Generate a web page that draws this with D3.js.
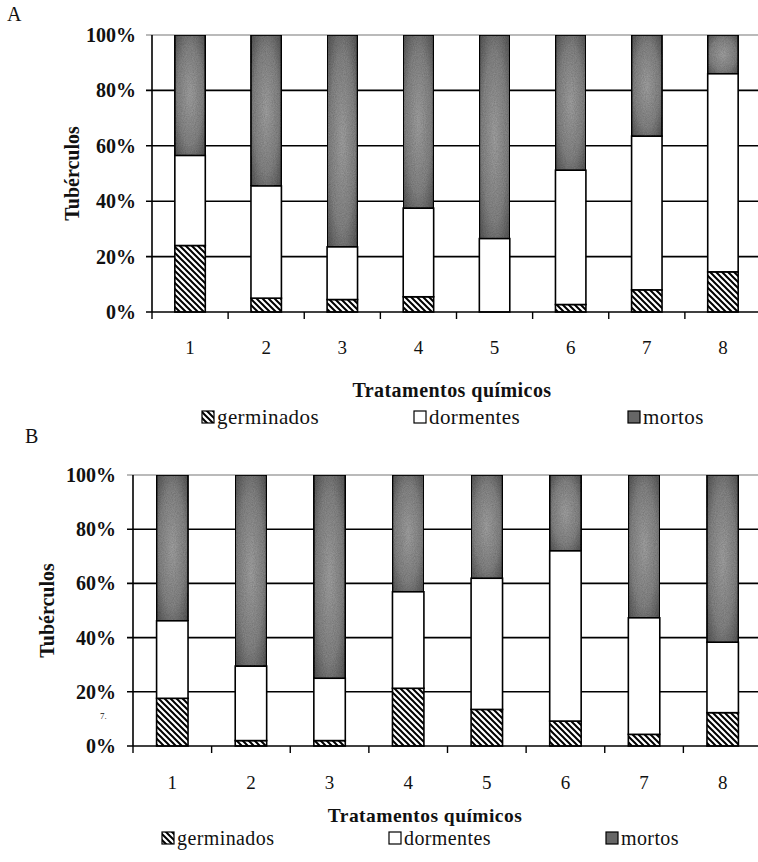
<!DOCTYPE html>
<html>
<head>
<meta charset="utf-8">
<script src="https://cdn.jsdelivr.net/npm/d3@7"></script>
<style>
  html, body { margin: 0; padding: 0; background: #fff; }
  svg { display: block; }
  text { font-family: "Liberation Serif", "Times New Roman", serif; fill: #111; }
</style>
</head>
<body>
<svg id="chart" width="758" height="862"></svg>
<script>
// ---------- data ----------
const categories = ["1", "2", "3", "4", "5", "6", "7", "8"];
const seriesNames = ["germinados", "dormentes", "mortos"];
const yTickValues = [0, 20, 40, 60, 80, 100];
const yTickLabels = ["0%", "20%", "40%", "60%", "80%", "100%"];

const germinadosA = [24, 5, 4.5, 5.5, 0, 2.7, 8, 14.5];
const dormentesA  = [32.5, 40.5, 19, 32, 26.5, 48.5, 55.5, 71.5];
const mortosA     = [43.5, 54.5, 76.5, 62.5, 73.5, 48.8, 36.5, 14];

const germinadosB = [17.6, 2, 2, 21.3, 13.5, 9.2, 4.3, 12.3];
const dormentesB  = [28.6, 27.5, 23, 35.6, 48.4, 62.8, 43, 26];
const mortosB     = [53.8, 70.5, 75, 43.1, 38.1, 28, 52.7, 61.7];

const xTitle = "Tratamentos químicos";
const yTitle = "Tubérculos";

// ---------- drawing ----------
const svg = d3.select("#chart");
const defs = svg.append("defs");

// hatch pattern for germinados
const hatch = defs.append("pattern")
  .attr("id", "hatch").attr("patternUnits", "userSpaceOnUse")
  .attr("width", 6).attr("height", 6);
hatch.append("rect").attr("width", 6).attr("height", 6).attr("fill", "#fff");
hatch.append("path").attr("d", "M0,0 L6,6 M-3,3 L3,9 M3,-3 L9,3")
  .attr("stroke", "#000").attr("stroke-width", 2);

// shaded gray for mortos
const grad = defs.append("radialGradient").attr("id", "shade")
  .attr("cx", "50%").attr("cy", "50%").attr("r", "75%");
grad.append("stop").attr("offset", "0%").attr("stop-color", "#a8a8a8");
grad.append("stop").attr("offset", "55%").attr("stop-color", "#8a8a8a");
grad.append("stop").attr("offset", "100%").attr("stop-color", "#4e4e4e");

// speckle noise filter
const flt = defs.append("filter").attr("id", "grain").attr("x", 0).attr("y", 0).attr("width", 1).attr("height", 1);
flt.append("feTurbulence").attr("type", "fractalNoise").attr("baseFrequency", 0.9).attr("numOctaves", 2).attr("result", "noise");
flt.append("feColorMatrix").attr("in", "noise").attr("type", "matrix")
  .attr("values", "0 0 0 0 0  0 0 0 0 0  0 0 0 0 0  0 0 0 0.45 0").attr("result", "dots");
flt.append("feComposite").attr("in", "dots").attr("in2", "SourceGraphic").attr("operator", "in").attr("result", "d2");
flt.append("feMerge").selectAll("feMergeNode").data(["SourceGraphic", "d2"]).join("feMergeNode").attr("in", d => d);

const fills = { germinados: "url(#hatch)", dormentes: "#fff", mortos: "url(#shade)" };

function panel(cfg) {
  const { letter, letterPos, x0, x1, yTop, yBot, germ, dorm, mort,
          labelRight, yTitleX, xLabelY, xTitleY, legendY, legendX } = cfg;
  const g = svg.append("g");

  const x = d3.scaleBand().domain(categories).range([x0, x1]).padding(0);
  const y = d3.scaleLinear().domain([0, 100]).range([yBot, yTop]);

  // panel letter
  g.append("text").attr("x", letterPos[0]).attr("y", letterPos[1])
    .attr("font-size", 20).text(letter);

  // gridlines
  g.append("g").selectAll("line").data(yTickValues.filter(v => v > 0)).join("line")
    .attr("x1", x0 - 6).attr("x2", x1)
    .attr("y1", d => y(d)).attr("y2", d => y(d))
    .attr("stroke", d => d === 100 ? "#777" : "#000")
    .attr("stroke-width", d => d === 100 ? 1.2 : 1.6);

  // y axis line
  g.append("line").attr("x1", x0).attr("x2", x0).attr("y1", yTop).attr("y2", yBot)
    .attr("stroke", "#000").attr("stroke-width", 1.6);

  // y tick labels
  g.append("g").selectAll("text").data(yTickValues).join("text")
    .attr("x", labelRight).attr("y", d => y(d)).attr("dy", "0.35em")
    .attr("text-anchor", "end").attr("font-size", 20).attr("font-weight", "bold")
    .text((d, i) => yTickLabels[i]);

  // y title
  g.append("text")
    .attr("transform", `translate(${yTitleX},${(yTop + yBot) / 2}) rotate(-90)`)
    .attr("text-anchor", "middle").attr("dy", "0.35em")
    .attr("font-size", 20).attr("font-weight", "bold").text(yTitle);

  // stacked bars
  const rows = categories.map((c, i) => ({ cat: c, germinados: germ[i], dormentes: dorm[i], mortos: mort[i] }));
  const stack = d3.stack().keys(seriesNames)(rows);
  const bw = x.bandwidth() * 0.4;
  stack.forEach(layer => {
    g.append("g").selectAll("rect").data(layer.filter(d => d[1] - d[0] > 0)).join("rect")
      .attr("x", d => x(d.data.cat) + (x.bandwidth() - bw) / 2)
      .attr("width", bw)
      .attr("y", d => y(d[1]))
      .attr("height", d => y(d[0]) - y(d[1]))
      .attr("fill", fills[layer.key])
      .attr("filter", layer.key === "mortos" ? "url(#grain)" : null)
      .attr("stroke", "#000").attr("stroke-width", 1.6);
  });

  // x axis baseline
  g.append("line").attr("x1", x0 - 6).attr("x2", x1).attr("y1", yBot).attr("y2", yBot)
    .attr("stroke", "#000").attr("stroke-width", 1.6);
  // x ticks at band boundaries
  const bounds = categories.map(c => x(c));
  g.append("g").selectAll("line").data(bounds).join("line")
    .attr("x1", d => d).attr("x2", d => d).attr("y1", yBot).attr("y2", yBot + 7)
    .attr("stroke", "#000").attr("stroke-width", 1.4);

  // category labels
  g.append("g").selectAll("text").data(categories).join("text")
    .attr("x", d => x(d) + x.bandwidth() / 2).attr("y", xLabelY).attr("dy", "0.35em")
    .attr("text-anchor", "middle").attr("font-size", 19).text(d => d);

  // x title
  g.append("text").attr("x", cfg.xTitleX).attr("y", xTitleY).attr("dy", "0.35em")
    .attr("text-anchor", "middle").attr("font-size", cfg.xTitleSize).attr("font-weight", "bold")
    .attr("letter-spacing", 0.45).text(xTitle);

  // legend
  const lg = g.append("g");
  seriesNames.forEach((name, i) => {
    const lx = legendX[i];
    lg.append("rect").attr("x", lx).attr("y", legendY - 6).attr("width", 12).attr("height", 12)
      .attr("fill", name === "mortos" ? "#666" : fills[name])
      .attr("stroke", "#000").attr("stroke-width", 1.2);
    lg.append("text").attr("x", lx + 15).attr("y", legendY).attr("dy", "0.35em")
      .attr("font-size", cfg.legendSize).attr("letter-spacing", 0.4).text(name);
  });
}

panel({
  letter: "A", letterPos: [7, 21],
  x0: 152, x1: 761, yTop: 35, yBot: 312,
  germ: germinadosA, dorm: dormentesA, mort: mortosA,
  labelRight: 136, yTitleX: 72, xLabelY: 347, xTitleX: 452, xTitleY: 390, xTitleSize: 20,
  legendY: 417, legendX: [202, 414, 628], legendSize: 21
});

panel({
  letter: "B", letterPos: [25, 443],
  x0: 133, x1: 762, yTop: 475, yBot: 746,
  germ: germinadosB, dorm: dormentesB, mort: mortosB,
  labelRight: 116, yTitleX: 47, xLabelY: 782, xTitleX: 425, xTitleY: 815, xTitleSize: 19.5,
  legendY: 838, legendX: [162, 389, 606], legendSize: 20
});

// small scan mark near panel B axis
svg.append("text").attr("x", 100).attr("y", 719).attr("font-size", 9).attr("fill", "#555").text("7.");
</script>
</body>
</html>
